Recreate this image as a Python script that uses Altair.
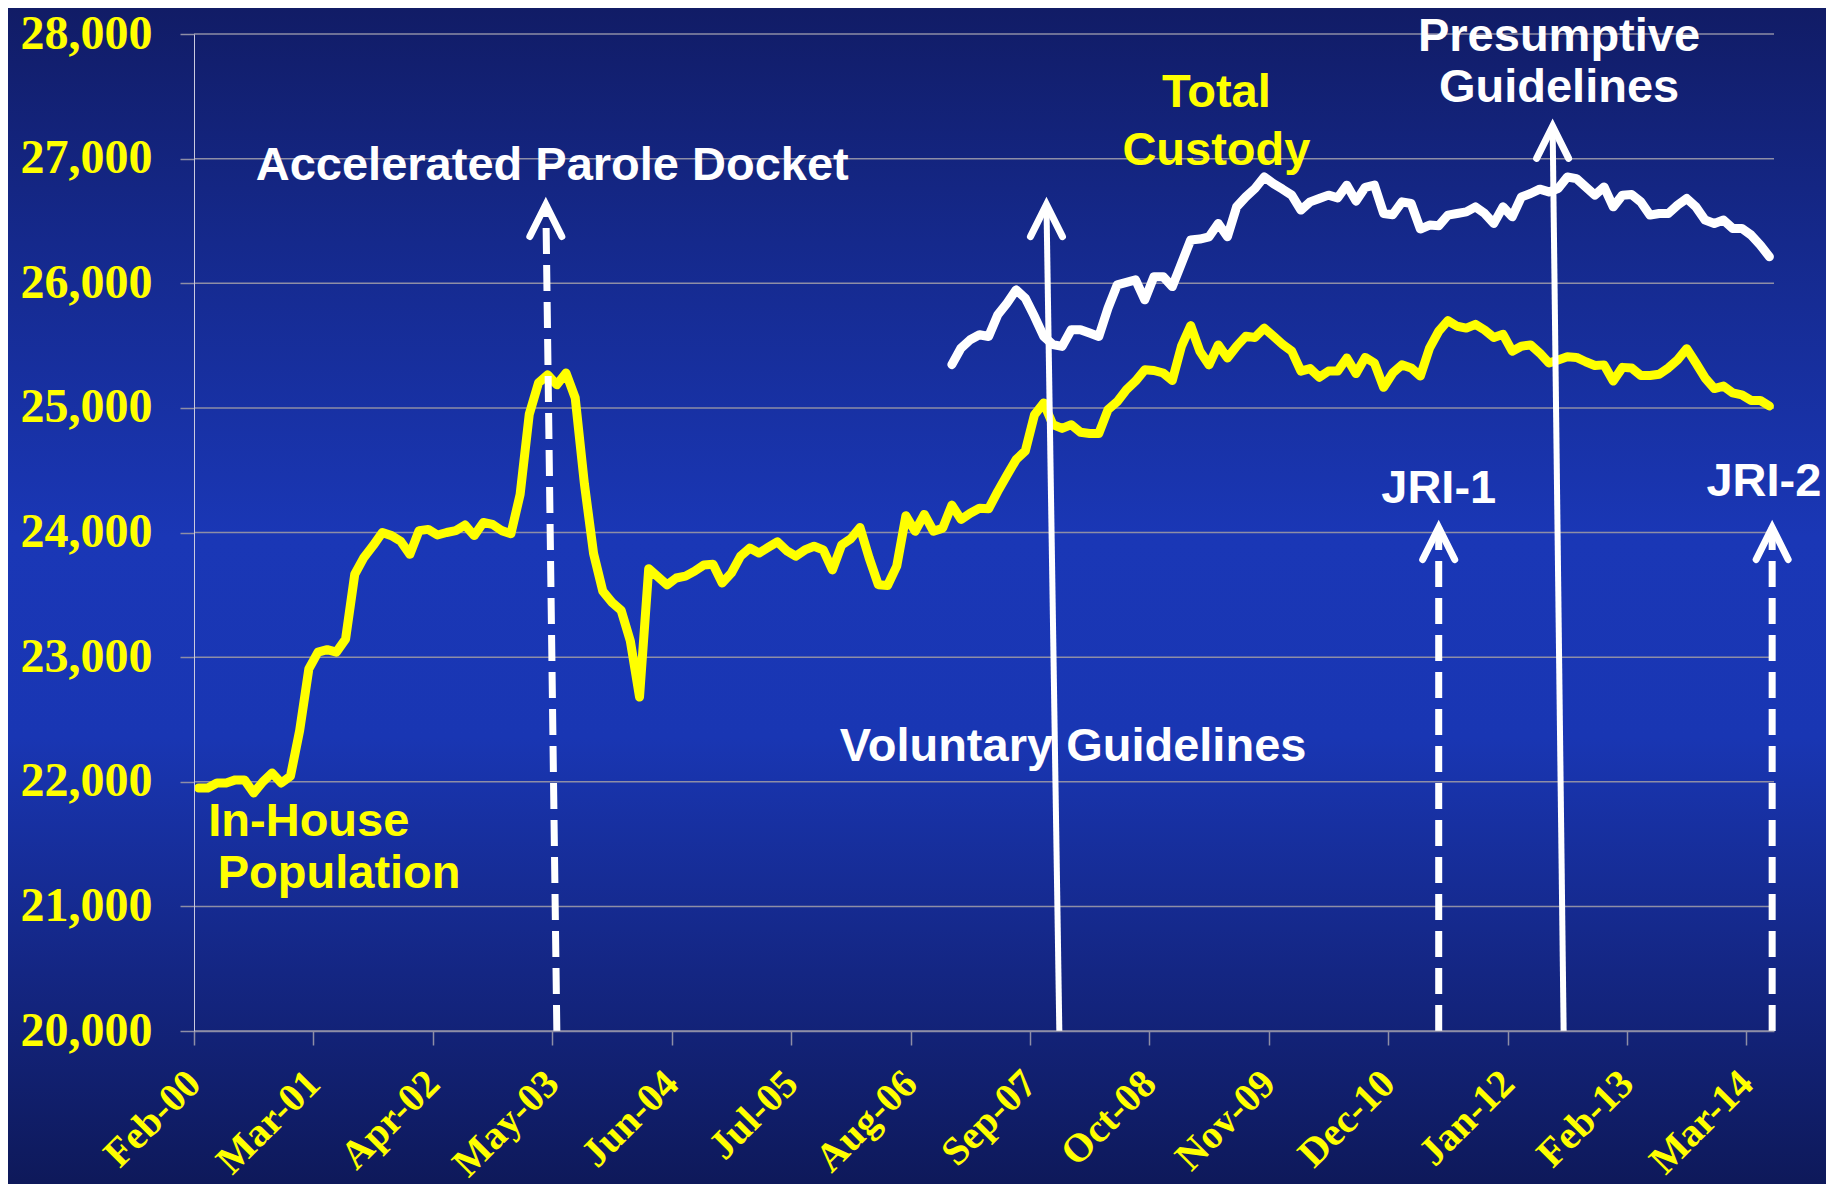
import altair as alt
import pandas as pd

alt.data_transformers.disable_max_rows()

# ---------------- data ----------------
tick_labels = ["Feb-00", "Mar-01", "Apr-02", "May-03", "Jun-04", "Jul-05", "Aug-06",
               "Sep-07", "Oct-08", "Nov-09", "Dec-10", "Jan-12", "Feb-13", "Mar-14"]
tick_step = 13  # months between labelled ticks
y_ticks = [20000, 21000, 22000, 23000, 24000, 25000, 26000, 27000, 28000]

# In-House Population (month index from Feb-2000)
inhouse_month = list(range(0, 50)) + list(range(51, 172))
inhouse_value = [
    21950, 21950, 21990, 21990, 22015, 22015, 21910, 22000, 22070, 21990,
    22045, 22410, 22905, 23040, 23060, 23040, 23145, 23665, 23800, 23895,
    24000, 23975, 23930, 23825, 24015, 24025, 23980, 24000, 24015, 24060,
    23975, 24080, 24065, 24015, 23990, 24305, 24950, 25200, 25265, 25185,
    25280, 25080, 24390, 23830, 23530, 23440, 23375, 23130, 22680, 23710,
    23580, 23635, 23650, 23690, 23740, 23745, 23595, 23675, 23810, 23875,
    23835, 23880, 23925, 23855, 23810, 23860, 23890, 23860, 23700, 23900,
    23950, 24040, 23795, 23580, 23575, 23730, 24135, 24010, 24145, 24010,
    24035, 24220, 24105, 24155, 24195, 24190, 24330, 24460, 24585, 24655,
    24945, 25040, 24865, 24835, 24865, 24805, 24795, 24795, 24985, 25050,
    25145, 25215, 25305, 25300, 25280, 25220, 25495, 25660, 25455, 25345,
    25505, 25400, 25495, 25575, 25565, 25640, 25575, 25510, 25455, 25295,
    25315, 25245, 25295, 25295, 25400, 25275, 25405, 25360, 25165, 25280,
    25345, 25320, 25255, 25480, 25615, 25700, 25655, 25640, 25670, 25625,
    25565, 25590, 25455, 25495, 25505, 25440, 25360, 25385, 25410, 25405,
    25370, 25340, 25345, 25215, 25325, 25320, 25260, 25260, 25270, 25320,
    25385, 25475, 25360, 25240, 25155, 25175, 25120, 25105, 25060, 25060, 25015,
]

# Total Custody
custody_month = list(range(82, 101)) + list(range(102, 172))
custody_value = [
    25347, 25480, 25547, 25587, 25573, 25747, 25840, 25947, 25880, 25733,
    25573, 25507, 25493, 25627, 25627, 25600, 25573, 25800, 25987,
    26027, 25867, 26053, 26053, 25973, 26160, 26347, 26355, 26373, 26480,
    26373, 26613, 26693, 26760, 26853, 26800, 26755, 26707, 26587, 26653,
    26680, 26707, 26685, 26787, 26659, 26770, 26787, 26560, 26550, 26653,
    26640, 26435, 26467, 26461, 26547, 26560, 26573, 26613, 26560, 26480,
    26613, 26533, 26693, 26720, 26755, 26733, 26760, 26853, 26840, 26773,
    26707, 26773, 26613, 26707, 26712, 26653, 26547, 26560, 26560, 26627,
    26680, 26613, 26507, 26480, 26507, 26440, 26440, 26387, 26307, 26213,
]

# Policy arrows: bottom month pos, top month pos, tip value
arrow_names = ["Accelerated Parole Docket", "Voluntary Guidelines", "Presumptive Guidelines", "JRI-1", "JRI-2"]
arrow_x_bottom = [39.5, 94.2, 149.1, 135.5, 171.8]
arrow_x_top = [38.3, 92.8, 147.9, 135.5, 171.8]
arrow_tip = [26632, 26631, 27259, 24040, 24040]
arrow_dashed = [True, False, False, True, True]

# Annotation texts
note_text = ["Accelerated Parole Docket", "Total", "Custody", "Voluntary Guidelines",
             "Presumptive", "Guidelines", "JRI-1", "JRI-2", "In-House", "Population"]
note_x = [39.0, 111.3, 111.3, 95.7, 148.6, 148.6, 135.5, 170.9, 12.5, 15.8]
note_y = [26943, 27528, 27063, 22275, 27975, 27565, 24349, 24405, 21675, 21259]
note_color = ["#ffffff", "#ffff00", "#ffff00", "#ffffff", "#ffffff", "#ffffff",
              "#ffffff", "#ffffff", "#ffff00", "#ffff00"]

# ---------------- chart ----------------
W, H = 1580, 997
PAD = {"left": 186, "top": 26, "right": 52, "bottom": 153}

YELLOW = "#ffff00"
GRID = "#8e8ea6"

x_scale = alt.Scale(domain=[0, 172], nice=False, zero=False)
y_scale = alt.Scale(domain=[20000, 28000], nice=False, zero=False)

label_expr = "[" + ",".join("'%s'" % s for s in tick_labels) + "][round(datum.value / %d)]" % tick_step
x_axis = alt.Axis(
    values=[i * tick_step for i in range(len(tick_labels))],
    labelExpr=label_expr, labelAngle=315, labelAlign="right", labelBaseline="middle",
    labelFont="Liberation Serif", labelFontWeight="bold", labelFontSize=40,
    labelColor=YELLOW, labelPadding=32, labelFlush=False, labelOverlap=False,
    tickSize=14, tickColor=GRID, tickWidth=1.5, domainColor=GRID, domainWidth=1.5,
    grid=False, title=None, zindex=1,
)
y_axis = alt.Axis(
    values=y_ticks, labelExpr="format(datum.value, ',')",
    labelFont="Liberation Serif", labelFontWeight="bold", labelFontSize=48,
    labelColor=YELLOW, labelPadding=28, labelFlush=False, labelOverlap=False,
    tickSize=14, tickColor=GRID, tickWidth=1.5, domainColor="#c9c9de", domainWidth=1,
    grid=False, title=None, zindex=1,
)

def X(field):
    return alt.X(field, scale=x_scale, axis=x_axis)

def Y(field):
    return alt.Y(field, scale=y_scale, axis=y_axis)

bg = alt.Chart(pd.DataFrame({"k": [0]})).mark_rect(
    color=alt.LinearGradient(
        gradient="linear", x1=0, x2=0, y1=0, y2=1,
        stops=[
            alt.GradientStop(offset=0.0, color="#111c66"),
            alt.GradientStop(offset=0.2, color="#15298c"),
            alt.GradientStop(offset=0.45, color="#1a37b6"),
            alt.GradientStop(offset=0.62, color="#1936b3"),
            alt.GradientStop(offset=0.82, color="#142683"),
            alt.GradientStop(offset=1.0, color="#0e195a"),
        ],
    )
).encode(
    x=alt.value(-PAD["left"]), x2=alt.value(W + PAD["right"]),
    y=alt.value(-PAD["top"]), y2=alt.value(H + PAD["bottom"]),
)

grid = alt.Chart(pd.DataFrame({"tick": y_ticks})).mark_rule(
    color=GRID, strokeWidth=1.5
).encode(
    y=Y("tick:Q"),
    x=alt.value(0), x2=alt.value(W),
)

inhouse_df = pd.DataFrame({"month": inhouse_month, "value": inhouse_value})
custody_df = pd.DataFrame({"month": custody_month, "value": custody_value})

inhouse_line = alt.Chart(inhouse_df).transform_calculate(
    xpos="datum.month + 0.5"
).mark_line(color=YELLOW, strokeWidth=9, strokeJoin="round", strokeCap="round").encode(
    x=X("xpos:Q"), y=Y("value:Q"),
)
custody_line = alt.Chart(custody_df).transform_calculate(
    xpos="datum.month + 0.5"
).mark_line(color="#ffffff", strokeWidth=9, strokeJoin="round", strokeCap="round").encode(
    x=X("xpos:Q"), y=Y("value:Q"),
)

arrows_df = pd.DataFrame({
    "name": arrow_names, "xb": arrow_x_bottom, "xt": arrow_x_top,
    "yb": [20000] * len(arrow_names), "yt": arrow_tip, "dashed": arrow_dashed,
})

def rule_layer(dashed):
    d = arrows_df[arrows_df["dashed"] == dashed]
    kw = dict(color="#ffffff", strokeWidth=7 if dashed else 6)
    if dashed:
        kw["strokeDash"] = [26, 11]
    return alt.Chart(d).mark_rule(**kw).encode(
        x=X("xb:Q"), x2="xt:Q", y=Y("yb:Q"), y2="yt:Q",
    )

heads = alt.Chart(arrows_df).mark_point(
    shape="M-1,1L0,-1L1,1", size=1024, filled=False, color="#ffffff",
    strokeWidth=7, strokeCap="round", strokeJoin="miter", opacity=1, yOffset=16,
).encode(
    x=X("xt:Q"), y=Y("yt:Q"),
)

notes_df = pd.DataFrame({"text": note_text, "x": note_x, "y": note_y, "color": note_color})
notes = alt.Chart(notes_df).mark_text(
    font="Liberation Sans", fontWeight="bold", fontSize=47, align="center", baseline="middle",
).encode(
    x=X("x:Q"), y=Y("y:Q"),
    text="text:N",
    color=alt.Color("color:N", scale=None),
)

chart = alt.layer(
    bg, grid, inhouse_line, custody_line, rule_layer(True), rule_layer(False), heads, notes
).properties(
    width=W, height=H, padding=PAD,
    autosize=alt.AutoSizeParams(type="none"),
    background="#111c66",
).configure_view(stroke=None)

chart.save("out.html", embed_options={"renderer": "svg", "actions": False})
